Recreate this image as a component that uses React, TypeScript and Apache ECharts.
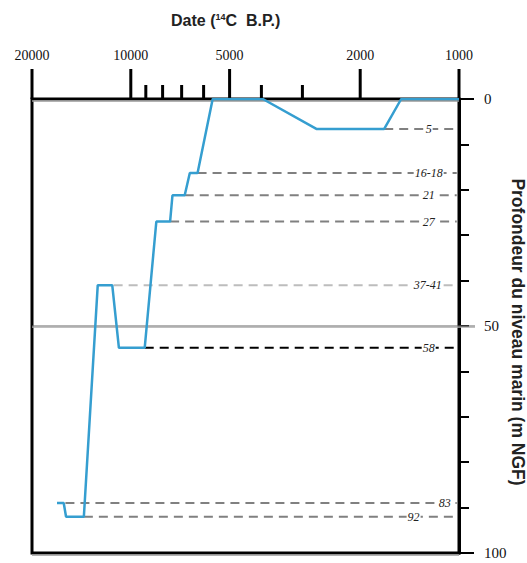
import React, { useEffect, useRef } from "react";
import * as echarts from "echarts";

// Sea-level curve (date 14C B.P., depth m NGF)
const curveDates = [16780, 16010, 15750, 13900, 12610, 11390, 10870, 9070, 8360, 7590, 7465, 6850, 6610, 6260, 5630, 3960, 2720, 1690, 1500, 1000];
const curveDepths = [89, 89, 92, 92, 41, 41, 54.8, 54.8, 27, 27, 21.2, 21.2, 16.3, 16.3, 0, 0, 6.6, 6.6, 0, 0];

// Reference (dashed) levels
const refLabels = ["5", "16-18", "21", "27", "37-41", "58", "83", "92"];
const refDepths = [6.6, 16.3, 21.2, 27, 41, 54.8, 89, 92];
const refStarts = [1690, 6260, 6850, 7590, 11280, 9070, 15820, 13900];
const refLabelDates = [1237, 1237, 1237, 1237, 1245, 1237, 1105, 1375];
const refEnd = 1016;

// Axis ticks
const majorTicks = [20000, 10000, 5000, 2000, 1000];
const minorTicks = [9000, 8000, 7000, 6000, 4000, 3000];
const depthRules = [0, 50, 100];

const refColors = ["#808080", "#808080", "#808080", "#808080", "#bdbdbd", "#000000", "#808080", "#808080"];

export default function App() {
  const ref = useRef<HTMLDivElement>(null);
  useEffect(() => {
    const chart = echarts.init(ref.current!, null, { renderer: "svg" });
    const serif = "'Liberation Serif', 'DejaVu Serif', serif";
    const sans = "'Liberation Sans', Arial, sans-serif";
    chart.setOption({
      animation: false,
      backgroundColor: "#fff",
      title: {
        text: "{a|Date (}{s|14}{a|C  B.P.)}",
        left: 166,
        top: 7,
        textStyle: {
          rich: {
            a: { fontFamily: sans, fontWeight: "bold", fontSize: 16, color: "#222" },
            s: { fontFamily: sans, fontWeight: "bold", fontSize: 9, color: "#222", verticalAlign: "top", padding: [0, 0, 6, 0] },
          },
        },
      },
      grid: {
        left: 32,
        right: 68,
        top: 99,
        bottom: 10,
        containLabel: false,
        outerBoundsMode: "none",
        show: true,
        borderColor: "#000",
        borderWidth: 3,
        backgroundColor: "transparent",
      },
      xAxis: {
        type: "log",
        logBase: 10,
        min: 1000,
        max: 20000,
        inverse: true,
        position: "top",
        axisLine: { show: false },
        axisTick: { show: false },
        axisLabel: { show: false },
        splitLine: { show: false },
      },
      yAxis: {
        type: "value",
        min: 0,
        max: 100,
        interval: 10,
        inverse: true,
        position: "right",
        axisLine: { show: true, onZero: false, lineStyle: { color: "#000", width: 3 } },
        axisTick: { show: true, length: 10, lineStyle: { color: "#000", width: 2 } },
        axisLabel: {
          margin: 25,
          fontFamily: serif,
          fontSize: 15,
          color: "#111",
          formatter: (v: number) => (v % 50 === 0 ? String(v) : ""),
        },
        splitLine: { show: false },
        name: "Profondeur du niveau marin (m NGF)",
        nameLocation: "middle",
        nameRotate: -90,
        nameGap: 50,
        nameMoveOverlap: false,
        nameTextStyle: {
          fontFamily: sans,
          fontWeight: "bold",
          fontSize: 17.5,
          color: "#222",
          padding: [0, 0, 0, 12],
        },
      },
      series: [
        {
          type: "custom",
          name: "rules",
          clip: false,
          z: 1,
          data: depthRules.map((d) => [d]),
          renderItem: (params: any, api: any) => {
            const d = api.value(0);
            const a = api.coord([20000, d]);
            const b = api.coord([1000, d]);
            if (d === 50) {
              return {
                type: "group",
                children: [
                  { type: "line", shape: { x1: a[0], y1: a[1], x2: b[0] + 16, y2: b[1] }, style: { stroke: "#666", lineWidth: 1 } },
                  { type: "line", shape: { x1: a[0], y1: a[1] + 1.2, x2: b[0] + 16, y2: b[1] + 1.2 }, style: { stroke: "#aaa", lineWidth: 1.2 } },
                ],
              };
            }
            return {
              type: "group",
              children: [
                { type: "line", shape: { x1: a[0], y1: a[1] + 2, x2: b[0], y2: b[1] + 2 }, style: { stroke: "#999", lineWidth: 1.5 } },
                { type: "line", shape: { x1: b[0], y1: b[1], x2: b[0] + 15, y2: b[1] }, style: { stroke: "#000", lineWidth: 2 } },
              ],
            };
          },
        },
        {
          type: "custom",
          name: "xticks",
          clip: false,
          z: 3,
          data: [...majorTicks.map((v) => [v, 1]), ...minorTicks.map((v) => [v, 0])],
          renderItem: (params: any, api: any) => {
            const v = api.value(0);
            const major = api.value(1) === 1;
            const p = api.coord([v, 0]);
            const children: any[] = [
              { type: "line", shape: { x1: p[0], y1: p[1], x2: p[0], y2: p[1] - (major ? 30 : 14) }, style: { stroke: "#000", lineWidth: 3 } },
            ];
            if (major) {
              children.push({
                type: "text",
                x: p[0],
                y: p[1] - 44,
                style: { text: String(v), fill: "#111", font: `14px ${serif}`, align: "center", verticalAlign: "middle" },
              });
            }
            return { type: "group", children };
          },
        },
        {
          type: "custom",
          name: "refs",
          clip: false,
          z: 2,
          data: refDepths.map((d, i) => [refStarts[i], d, refLabelDates[i], i]),
          renderItem: (params: any, api: any) => {
            const i = api.value(3);
            const a = api.coord([api.value(0), api.value(1)]);
            const b = api.coord([refEnd, api.value(1)]);
            const t = api.coord([api.value(2), api.value(1)]);
            return {
              type: "group",
              children: [
                {
                  type: "line",
                  shape: { x1: a[0], y1: a[1], x2: b[0], y2: b[1] },
                  style: { stroke: refColors[i], lineWidth: 2, lineDash: [9, 6] },
                },
                {
                  type: "text",
                  x: t[0],
                  y: t[1],
                  style: {
                    text: refLabels[i],
                    fill: "#222",
                    font: `italic 12px ${serif}`,
                    align: "center",
                    verticalAlign: "middle",
                    backgroundColor: "#fff",
                    padding: [0, 1],
                  },
                },
              ],
            };
          },
        },
        {
          type: "line",
          name: "niveau",
          z: 5,
          symbol: "none",
          data: curveDates.map((d, i) => [d, curveDepths[i]]),
          lineStyle: { color: "#359ed0", width: 2.5 },
        },
      ],
    });
    return () => chart.dispose();
  }, []);
  return <div ref={ref} style={{ position: "fixed", left: 0, top: 0, width: 527, height: 563 }} />;
}
